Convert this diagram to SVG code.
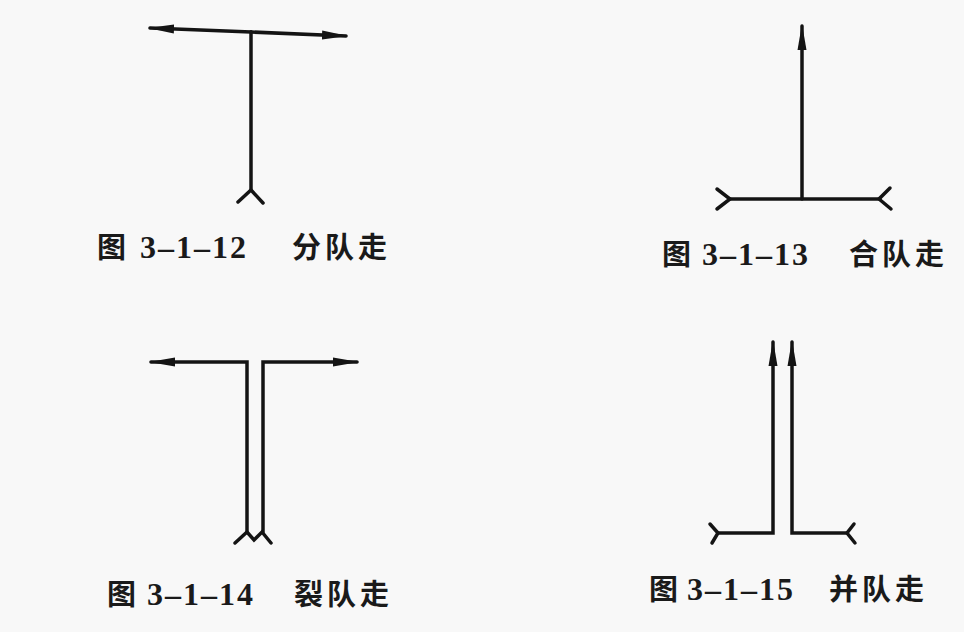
<svg xmlns="http://www.w3.org/2000/svg" width="964" height="632" viewBox="0 0 964 632">
  <style>
    .ln { fill: none; stroke: #141414; stroke-width: 3.5; stroke-linecap: round; stroke-linejoin: miter; }
    .ar { marker-end: url(#arr); }
    .fe { fill: none; stroke: #141414; stroke-width: 3.5; stroke-linecap: round; stroke-linejoin: miter; }
    .fig { font-family: "Noto Sans CJK SC", "Noto Sans", sans-serif; font-weight: bold; font-size: 29px; fill: #1a1a1a; }
    .num { font-family: "Liberation Serif", "DejaVu Serif", serif; font-weight: bold; font-size: 32px; fill: #1a1a1a; letter-spacing: 2px; }
    .cap { font-family: "Noto Sans CJK SC", "Noto Sans", sans-serif; font-weight: bold; font-size: 29px; fill: #1a1a1a; letter-spacing: 4px; }
  </style>
  <defs>
    <marker id="arr" markerUnits="userSpaceOnUse" markerWidth="26" markerHeight="12" refX="24" refY="6" orient="auto">
      <path d="M0,1.5 L26,6 L0,10.5 Z" fill="#141414"/>
    </marker>
  </defs>
  <rect x="0" y="0" width="964" height="632" fill="#f8f8f8"/>

  <!-- Figure 3-1-12 -->
  <g id="fig-3-1-12">
    <g class="connectors">
      <line class="ln ar" x1="251" y1="32" x2="150" y2="28"/>
      <line class="ln ar" x1="251" y1="32" x2="346" y2="36"/>
      <line class="ln" x1="251" y1="32" x2="251" y2="190"/>
      <polyline class="fe" points="238,202 251,190 263,203"/>
    </g>
    <text class="fig" x="97" y="258">图</text>
    <text class="num" x="140" y="258">3–1–12</text>
    <text class="cap" x="292" y="258">分队走</text>
  </g>

  <!-- Figure 3-1-13 -->
  <g id="fig-3-1-13">
    <g class="connectors">
      <line class="ln ar" x1="802" y1="199" x2="802" y2="26"/>
      <line class="ln" x1="730" y1="199" x2="880" y2="199"/>
      <polyline class="fe" points="717,189 730,199 717,209"/>
      <polyline class="fe" points="890,188 879,199 891,209"/>
    </g>
    <text class="fig" x="662" y="265">图</text>
    <text class="num" x="702" y="265">3–1–13</text>
    <text class="cap" x="849" y="265">合队走</text>
  </g>

  <!-- Figure 3-1-14 -->
  <g id="fig-3-1-14">
    <g class="connectors">
      <polyline class="ln ar" points="247,532 247,362 151,362"/>
      <polyline class="ln ar" points="263,532 263,362 357,362"/>
      <polyline class="fe" points="235,543 247,532 254,540 262,532 271,543"/>
    </g>
    <text class="fig" x="107" y="605">图</text>
    <text class="num" x="147" y="605">3–1–14</text>
    <text class="cap" x="294" y="605">裂队走</text>
  </g>

  <!-- Figure 3-1-15 -->
  <g id="fig-3-1-15">
    <g class="connectors">
      <polyline class="ln ar" points="718,533 773,533 773,342"/>
      <polyline class="ln ar" points="847,533 792,533 792,342"/>
      <polyline class="fe" points="710,524 718,533 712,543"/>
      <polyline class="fe" points="854,524 847,533 855,543"/>
    </g>
    <text class="fig" x="649" y="600">图</text>
    <text class="num" x="687" y="600">3–1–15</text>
    <text class="cap" x="829" y="600">并队走</text>
  </g>
</svg>
